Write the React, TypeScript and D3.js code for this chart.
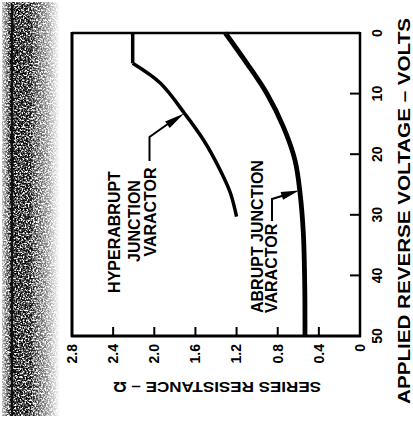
import React from "react";
import * as d3 from "d3";

// ---- data ----
const voltTicks = [0, 10, 20, 30, 40, 50];
const voltTickLabels = ["0", "10", "20", "30", "40", "50"];
const resTicks = [2.8, 2.4, 2.0, 1.6, 1.2, 0.8, 0.4, 0];
const resTickLabels = ["2.8", "2.4", "2.0", "1.6", "1.2", "0.8", "0.4", "0"];

// hyperabrupt junction varactor: flat segment then curve
const hyperFlatV = [0, 5];
const hyperFlatR = [2.21, 2.21];
const hyperV = [5, 8.3, 13.4, 17.7, 22.6, 26.4, 30.3];
const hyperR = [2.21, 1.94, 1.7, 1.52, 1.36, 1.26, 1.2];

// abrupt junction varactor
const abruptV = [0, 5, 9.95, 15.5, 21.0, 26.4, 33.0, 41.9, 47.4, 50];
const abruptR = [1.31, 1.1, 0.907, 0.745, 0.632, 0.583, 0.551, 0.537, 0.535, 0.535];

const W = 413;
const H = 421;

export default function App() {
  const x = d3.scaleLinear().domain([0, 2.8]).range([360, 72]);
  const y = d3.scaleLinear().domain([0, 50]).range([33, 336]);

  const pts = (V: number[], R: number[]) => V.map((v, i) => [R[i], v] as [number, number]);
  const lineLin = d3.line<[number, number]>().x((d) => x(d[0])).y((d) => y(d[1]));
  const lineCurve = d3
    .line<[number, number]>()
    .x((d) => x(d[0]))
    .y((d) => y(d[1]))
    .curve(d3.curveCatmullRom.alpha(0.5));

  const font = "'Liberation Sans', Arial, Helvetica, sans-serif";

  const arrowHead = (x0: number, y0: number, x1: number, y1: number, len: number, wid: number) => {
    const dx = x1 - x0;
    const dy = y1 - y0;
    const L = Math.hypot(dx, dy);
    const ux = dx / L;
    const uy = dy / L;
    const bx = x1 - ux * len;
    const by = y1 - uy * len;
    const px = -uy * (wid / 2);
    const py = ux * (wid / 2);
    return `M${x1},${y1}L${bx + px},${by + py}L${bx - px},${by - py}Z`;
  };

  const left = x(2.8);
  const right = x(0);
  const top = y(0);
  const bottom = y(50);

  return (
    <svg
      width={W}
      height={H}
      style={{ position: "absolute", left: 0, top: 0, background: "#fff" }}
      fontFamily={font}
      fontWeight="bold"
    >
      <defs>
        <linearGradient id="band" x1="0" x2="1" y1="0" y2="0">
          <stop offset="0" stopColor="#000" stopOpacity="0.3" />
          <stop offset="0.15" stopColor="#000" stopOpacity="1" />
          <stop offset="0.5" stopColor="#000" stopOpacity="0.9" />
          <stop offset="0.78" stopColor="#000" stopOpacity="0.45" />
          <stop offset="1" stopColor="#000" stopOpacity="0" />
        </linearGradient>
        <filter id="grain" x="0" y="0" width="100%" height="100%">
          <feTurbulence type="fractalNoise" baseFrequency="0.6" numOctaves="3" seed="7" result="noise" />
          <feColorMatrix
            in="noise"
            type="matrix"
            values="0 0 0 0 0  0 0 0 0 0  0 0 0 0 0  3.2 0 0 0 -1.0"
            result="mask"
          />
          <feComposite in="SourceGraphic" in2="mask" operator="in" />
        </filter>
      </defs>

      {/* scanned dark edge on the left */}
      <rect x={2} y={2} width={58} height={414} fill="url(#band)" filter="url(#grain)" />
      <rect x={10} y={4} width={22} height={412} fill="#000" opacity={0.5} filter="url(#grain)" />
      <line x1={12} x2={12} y1={4} y2={416} stroke="#111" strokeWidth={2.5} />

      {/* frame */}
      <line x1={left} x2={right} y1={top} y2={top} stroke="#000" strokeWidth={2.5} />
      <line x1={left} x2={left} y1={top - 1} y2={bottom + 1} stroke="#000" strokeWidth={3} />
      <line x1={right} x2={right} y1={top - 1} y2={bottom + 1} stroke="#000" strokeWidth={2.5} />
      <line x1={left - 1} x2={right + 1} y1={bottom} y2={bottom} stroke="#000" strokeWidth={3} />

      {/* voltage ticks (right axis) */}
      {voltTicks.map((v, i) => (
        <g key={"v" + i}>
          {v > 0 && v < 50 && (
            <line x1={right} x2={right - 10} y1={y(v)} y2={y(v)} stroke="#000" strokeWidth={2} />
          )}
          <text
            transform={`translate(377,${y(v)}) rotate(-90)`}
            textAnchor="middle"
            dy="0.35em"
            fontSize={14}
          >
            {voltTickLabels[i]}
          </text>
        </g>
      ))}

      {/* resistance ticks (bottom axis) */}
      {resTicks.map((r, i) => (
        <g key={"r" + i}>
          {r > 0 && r < 2.8 && (
            <line x1={x(r)} x2={x(r)} y1={bottom} y2={bottom - 9} stroke="#000" strokeWidth={2} />
          )}
          <text
            transform={`translate(${x(r)},344) rotate(-90)`}
            textAnchor="end"
            dy="0.35em"
            fontSize={14}
          >
            {resTickLabels[i]}
          </text>
        </g>
      ))}

      {/* axis titles */}
      <text
        transform="translate(404.5,211) rotate(-90)"
        textAnchor="middle"
        dy="0.35em"
        fontSize={16}
        textLength={386}
        lengthAdjust="spacingAndGlyphs"
      >
        APPLIED REVERSE VOLTAGE – VOLTS
      </text>
      <text
        transform="translate(217,387) rotate(180)"
        textAnchor="middle"
        dy="0.35em"
        fontSize={15}
        textLength={208}
        lengthAdjust="spacingAndGlyphs"
      >
        SERIES RESISTANCE – Ω
      </text>

      {/* curves */}
      <path d={lineLin(pts(hyperFlatV, hyperFlatR)) || ""} fill="none" stroke="#000" strokeWidth={3.5} />
      <path
        d={lineCurve(pts(hyperV, hyperR)) || ""}
        fill="none"
        stroke="#000"
        strokeWidth={3.5}
        strokeLinejoin="miter"
      />
      <path d={lineCurve(pts(abruptV, abruptR)) || ""} fill="none" stroke="#000" strokeWidth={4.8} />

      {/* hyperabrupt label */}
      <g fontSize={16}>
        <text transform="translate(114,232) rotate(-90)" textAnchor="middle" dy="0.35em">
          HYPERABRUPT
        </text>
        <text transform="translate(134,221) rotate(-90)" textAnchor="middle" dy="0.35em">
          JUNCTION
        </text>
        <text transform="translate(150,212) rotate(-90)" textAnchor="middle" dy="0.35em">
          VARACTOR
        </text>
      </g>
      <path d="M149.5,161L149.5,137L172,121" fill="none" stroke="#000" strokeWidth={2} />
      <path d={arrowHead(149.5, 137, 184, 113.5, 20, 8)} fill="#000" />

      {/* abrupt label */}
      <g fontSize={16}>
        <text transform="translate(257,313) rotate(-90)" textAnchor="start" dy="0.35em">
          ABRUPT JUNCTION
        </text>
        <text transform="translate(271,313) rotate(-90)" textAnchor="start" dy="0.35em">
          VARACTOR
        </text>
      </g>
      <path d="M272,221L272,199L285,195" fill="none" stroke="#000" strokeWidth={2} />
      <path d={arrowHead(272, 199, 299, 190.5, 18, 8)} fill="#000" />
    </svg>
  );
}
